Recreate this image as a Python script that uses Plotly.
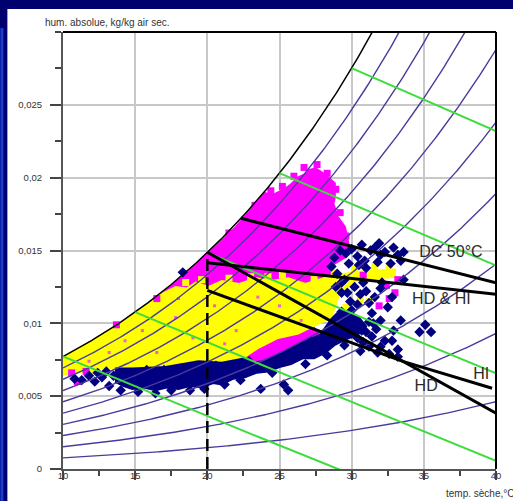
import numpy as np
import plotly.graph_objects as go

# ---------------- data ----------------
rh_levels = [0.1, 0.2, 0.3, 0.4, 0.5, 0.6, 0.7, 0.8, 0.9]
wetbulb_levels = [10, 15, 20, 25, 30]

x_tickvals = [10, 15, 20, 25, 30, 35, 40]
x_ticktext = ["10", "15", "20", "25", "30", "35", "40"]
y_tickvals = [0, 0.005, 0.01, 0.015, 0.02, 0.025]
y_ticktext = ["0", "0,005", "0,01", "0,015", "0,02", "0,025"]

# magenta cloud (outline)
magenta_T = [16.3, 17.2, 18.2, 19.2, 20.2, 21.0, 22.0, 23.0, 23.6, 24.0, 24.6, 25.4, 25.8, 26.3,
             26.8, 27.1, 27.5, 28.1, 28.8, 28.8, 28.7, 29.0, 29.5, 29.8, 29.6, 28.6, 28.4, 26.8,
             24.5, 22.2, 20.1, 18.7, 17.5, 16.3]
magenta_w = [0.0114, 0.0123, 0.0131, 0.0140, 0.0149, 0.0156, 0.0166, 0.0177, 0.0184, 0.0189,
             0.0188, 0.0192, 0.0195, 0.0200, 0.0202, 0.0205, 0.0206, 0.0202, 0.0196, 0.0187,
             0.0182, 0.0173, 0.0166, 0.0152, 0.0146, 0.0140, 0.0128, 0.0122, 0.0122, 0.0122,
             0.0120, 0.0120, 0.0118, 0.0114]
# magenta strip under the yellow cloud
magenta2_T = [22.4, 23.5, 24.9, 26.3, 27.3, 27.8, 26.2, 25.0, 24.0, 23.0, 22.4]
magenta2_w = [0.0077, 0.0084, 0.0090, 0.0093, 0.0098, 0.0092, 0.0085, 0.0079, 0.0074, 0.0073, 0.0077]
# isolated magenta squares
magenta_pts_T = [11.0, 11.6, 13.8, 14.1, 25.2, 26.0, 26.7, 27.6, 28.3, 28.9, 29.2, 29.6, 23.3,
                 21.5, 32.4, 33.0, 32.6, 33.2, 30.8, 31.9, 24.4, 22.6, 13.7, 16.5, 10.6]
magenta_pts_w = [0.0060, 0.0067, 0.0065, 0.0063, 0.0194, 0.0201, 0.0207, 0.0209, 0.0203, 0.0192,
                 0.0176, 0.0160, 0.0181, 0.0162, 0.0126, 0.0121, 0.0117, 0.0130, 0.0133, 0.0112,
                 0.0191, 0.0170, 0.0099, 0.0117, 0.0066]
# small magenta specks inside the yellow cloud
speck_T = [15.5, 17.8, 20.5, 22.0, 13.2, 25.0, 19.0, 23.5, 26.5, 16.5, 21.2, 18.0, 11.8, 14.3]
speck_w = [0.0095, 0.0104, 0.0112, 0.0095, 0.0080, 0.0112, 0.0090, 0.0118, 0.0102, 0.0080,
           0.0086, 0.0117, 0.0074, 0.0088]

# yellow cloud (outline)
yellow_T = [10.0, 10.0, 11.0, 12.0, 13.0, 14.0, 15.0, 16.0, 17.0, 17.8, 18.6, 19.2, 20.1, 21.0,
            22.2, 23.4, 24.5, 25.6, 26.8, 28.4, 29.5, 31.0, 33.0, 33.0, 30.5, 29.2, 28.6, 27.3,
            26.3, 24.9, 23.5, 22.6, 21.0, 19.4, 17.1, 14.8, 12.5, 11.0]
yellow_w = [0.0064, 0.0077, 0.0082, 0.0088, 0.0094, 0.0100, 0.0107, 0.0114, 0.0121, 0.0125,
            0.0124, 0.0128, 0.0125, 0.0129, 0.0127, 0.0131, 0.0129, 0.0131, 0.0127, 0.0132,
            0.0134, 0.0136, 0.0137, 0.0132, 0.0130, 0.0122, 0.0104, 0.0098, 0.0093, 0.0090,
            0.0083, 0.0077, 0.0074, 0.0075, 0.0071, 0.0070, 0.0069, 0.0066]
yellow_pts_T = [18.5, 19.6, 21.5, 23.0, 24.2, 25.2, 27.4, 28.8, 30.2, 31.6, 32.6, 30.6, 31.2,
                12.0, 16.0, 29.6]
yellow_pts_w = [0.0128, 0.0130, 0.0131, 0.0132, 0.0132, 0.0133, 0.0130, 0.0135, 0.0137, 0.0139,
                0.0139, 0.0116, 0.0115, 0.0067, 0.0068, 0.0111]

# dense navy band (outline)
blue_T = [13.6, 14.8, 17.1, 19.4, 21.0, 22.6, 23.0, 24.0, 25.0, 26.2, 27.8, 28.6, 29.2, 30.5,
          31.0, 30.4, 29.6, 28.8, 28.2, 27.4, 26.6, 25.8, 25.0, 24.2, 23.4, 22.6, 21.8, 21.0,
          20.4, 19.6, 18.8, 18.0, 17.2, 16.4, 15.6, 14.8, 14.2, 13.6]
blue_w = [0.0069, 0.0069, 0.0070, 0.0074, 0.0073, 0.0076, 0.0073, 0.0074, 0.0079, 0.0085,
          0.0092, 0.0103, 0.0109, 0.0104, 0.0098, 0.0092, 0.0089, 0.0085, 0.0080, 0.0076,
          0.0076, 0.0072, 0.0070, 0.0067, 0.0066, 0.0063, 0.0062, 0.0058, 0.0059, 0.0056,
          0.0057, 0.0055, 0.0056, 0.0054, 0.0056, 0.0055, 0.0057, 0.0060]
# navy diamonds
blue_pts_T = [29.6, 30.0, 30.4, 30.9, 31.3, 31.6, 32.0, 32.3, 32.7, 33.2, 33.4, 31.0, 30.5, 29.8,
              31.8, 28.6, 29.0, 29.5, 30.2, 30.8, 31.6, 32.0, 32.5, 31.2, 30.6, 29.9, 29.3, 30.0,
              31.4, 28.9, 32.8, 29.1, 29.6, 30.3, 31.4, 32.3, 33.2, 33.2, 32.0, 31.0, 30.8, 31.8,
              32.6, 30.0, 33.4, 32.9, 29.0, 34.7, 35.1, 35.5, 10.8, 11.3, 11.8, 12.2, 13.2, 14.0,
              15.2, 16.4, 17.5, 18.8, 19.8, 21.2, 22.3, 23.7, 25.3, 25.6, 24.5, 26.8, 28.3, 29.5,
              30.7, 18.3, 27.2, 27.8, 28.2, 29.3, 30.1, 31.5, 33.6, 32.1, 28.8, 29.2, 30.7, 31.9,
              32.9, 33.6, 29.3, 29.7, 31.0, 30.4, 32.0, 31.7, 30.4, 29.7, 32.8, 31.2, 30.6, 12.7,
              13.0, 12.4, 13.5, 14.6, 15.8, 17.0, 18.2, 19.2, 20.6, 21.6, 22.9, 24.0, 26.0, 27.0,
              28.0, 28.9, 30.0, 31.2]
blue_pts_w = [0.0148, 0.0151, 0.0146, 0.0143, 0.0150, 0.0152, 0.0147, 0.0149, 0.0141, 0.0147,
              0.0143, 0.0138, 0.0140, 0.0141, 0.0142, 0.0139, 0.0134, 0.0130, 0.0125, 0.0128,
              0.0118, 0.0124, 0.0111, 0.0114, 0.0120, 0.0115, 0.0121, 0.0109, 0.0107, 0.0125,
              0.0118, 0.0102, 0.0098, 0.0100, 0.0091, 0.0088, 0.0082, 0.0077, 0.0084, 0.0094,
              0.0087, 0.0080, 0.0079, 0.0093, 0.0102, 0.0095, 0.0095, 0.0094, 0.0099, 0.0094,
              0.0062, 0.0061, 0.0064, 0.0060, 0.0057, 0.0054, 0.0053, 0.0052, 0.0054, 0.0054,
              0.0055, 0.0058, 0.0061, 0.0055, 0.0058, 0.0054, 0.0066, 0.0072, 0.0078, 0.0085,
              0.0095, 0.0135, 0.0088, 0.0083, 0.0090, 0.0108, 0.0104, 0.0100, 0.0130, 0.0128,
              0.0145, 0.0150, 0.0154, 0.0155, 0.0152, 0.0149, 0.0128, 0.0121, 0.0122, 0.0113,
              0.0102, 0.0096, 0.0090, 0.0093, 0.0088, 0.0084, 0.0081, 0.0063, 0.0067, 0.0066,
              0.0064, 0.0066, 0.0068, 0.0068, 0.0069, 0.0071, 0.0071, 0.0071, 0.0074, 0.0071,
              0.0078, 0.0083, 0.0087, 0.0096, 0.0099, 0.0101]

# black process lines
dc50_T = [22.33, 40.0]
dc50_w = [0.01721, 0.01279]
hdhi_T = [20.0, 40.0]
hdhi_w = [0.01416, 0.01199]
hd_T = [20.0, 40.0]
hd_w = [0.01488, 0.00383]
hi_T = [20.0, 33.6, 39.73]
hi_w = [0.01226, 0.00737, 0.00554]
dash_T = [20.0, 20.0]
dash_w = [0.0, 0.0149]

label_text = ["DC 50°C", "HD & HI", "HI", "HD"]
label_T = [36.88, 36.22, 38.97, 35.16]
label_w = [0.01486, 0.01157, 0.00648, 0.00562]

# ---------------- psychrometric furniture ----------------
P = 100000.0


def pws(T):
    return 610.94 * np.exp(17.625 * T / (T + 243.04))


def w_rh(T, rh):
    p = rh * pws(T)
    return 0.622 * p / (P - p)


def w_wb(T, twb):
    ws = w_rh(twb, 1.0)
    return ((2501 - 2.326 * twb) * ws - 1.006 * (T - twb)) / (2501 + 1.86 * T - 4.186 * twb)


fig = go.Figure()

NAVY = "#000080"
MAG = "#ff00ff"
YEL = "#ffff00"

# clouds
fig.add_trace(go.Scatter(x=magenta_T, y=magenta_w, fill="toself", fillcolor=MAG, mode="lines",
                         line=dict(color=MAG, width=3), hoverinfo="skip"))
fig.add_trace(go.Scatter(x=magenta2_T, y=magenta2_w, fill="toself", fillcolor=MAG, mode="lines",
                         line=dict(color=MAG, width=2), hoverinfo="skip"))
fig.add_trace(go.Scatter(x=yellow_T, y=yellow_w, fill="toself", fillcolor=YEL, mode="lines",
                         line=dict(color=YEL, width=2), hoverinfo="skip"))
fig.add_trace(go.Scatter(x=yellow_pts_T, y=yellow_pts_w, mode="markers",
                         marker=dict(symbol="square", size=7, color=YEL), hoverinfo="skip"))
fig.add_trace(go.Scatter(x=speck_T, y=speck_w, mode="markers",
                         marker=dict(symbol="square", size=3, color="#f060c8"), hoverinfo="skip"))
fig.add_trace(go.Scatter(x=magenta_pts_T, y=magenta_pts_w, mode="markers",
                         marker=dict(symbol="square", size=7, color=MAG), hoverinfo="skip"))
fig.add_trace(go.Scatter(x=blue_T, y=blue_w, fill="toself", fillcolor=NAVY, mode="lines",
                         line=dict(color=NAVY, width=2), hoverinfo="skip"))
fig.add_trace(go.Scatter(x=blue_pts_T, y=blue_pts_w, mode="markers",
                         marker=dict(symbol="diamond", size=8, color=NAVY), hoverinfo="skip"))

# relative humidity curves
T = np.linspace(10, 40, 301)
for rh in rh_levels:
    fig.add_trace(go.Scatter(x=T, y=w_rh(T, rh), mode="lines",
                             line=dict(color="#4a3a9c", width=1.4), hoverinfo="skip"))
# saturation curve
fig.add_trace(go.Scatter(x=T, y=w_rh(T, 1.0), mode="lines",
                         line=dict(color="black", width=1.5), hoverinfo="skip"))
# wet-bulb lines
for twb in wetbulb_levels:
    Tw = np.linspace(twb, 40, 60)
    fig.add_trace(go.Scatter(x=Tw, y=w_wb(Tw, twb), mode="lines",
                             line=dict(color="#3ddc3d", width=2), hoverinfo="skip"))

# process lines
for xs, ys in [(dc50_T, dc50_w), (hdhi_T, hdhi_w), (hd_T, hd_w), (hi_T, hi_w)]:
    fig.add_trace(go.Scatter(x=xs, y=ys, mode="lines",
                             line=dict(color="black", width=3), hoverinfo="skip"))
fig.add_trace(go.Scatter(x=dash_T, y=dash_w, mode="lines",
                         line=dict(color="black", width=2.5, dash="12px,6px"), hoverinfo="skip"))

fig.add_trace(go.Scatter(x=label_T, y=label_w, mode="text", text=label_text,
                         textfont=dict(family="Liberation Sans, Arial", size=16, color="#2a2a2a"),
                         textposition="middle center", hoverinfo="skip"))

# ---------------- layout ----------------
L, R, TOP, B = 63, 14, 32, 32
W, H = 513, 501
pw, ph = W - L - R, H - TOP - B


def px2x(px):
    return (px - L) / pw


def py2y(py):
    return (H - B - py) / ph


tickfont = dict(family="Liberation Sans, Arial", size=9.5, color="#333333")

fig.update_layout(
    width=W, height=H, autosize=False,
    margin=dict(l=L, r=R, t=TOP, b=B, pad=0),
    paper_bgcolor="#00006e", plot_bgcolor="white",
    showlegend=False,
    xaxis=dict(range=[10, 40], tickmode="array", tickvals=x_tickvals, ticktext=x_ticktext,
               ticks="outside", ticklen=9, tickwidth=1.5, tickcolor="#444444",
               tickfont=tickfont, ticklabelstandoff=-12,
               showline=True, linecolor="#555555", linewidth=2,
               showgrid=True, gridcolor="#c8c8c8", gridwidth=1.5, zeroline=False,
               minor=dict(tickmode="linear", tick0=0, dtick=2.5, ticks="outside", ticklen=5,
                          tickwidth=1.5, tickcolor="#444444", showgrid=False)),
    yaxis=dict(range=[0, 0.03], tickmode="array", tickvals=y_tickvals, ticktext=y_ticktext,
               ticks="outside", ticklen=11, tickwidth=1.5, tickcolor="#444444",
               tickfont=tickfont, ticklabelstandoff=6,
               showline=True, linecolor="#555555", linewidth=2,
               showgrid=True, gridcolor="#c8c8c8", gridwidth=1.5, zeroline=False,
               minor=dict(tickmode="linear", tick0=0, dtick=0.0025, ticks="outside", ticklen=6,
                          tickwidth=1.5, tickcolor="#444444", showgrid=False)),
    shapes=[
        dict(type="rect", xref="paper", yref="paper", x0=px2x(7), x1=px2x(530),
             y0=py2y(520), y1=py2y(9), fillcolor="white", line=dict(width=0), layer="below"),
        dict(type="rect", xref="paper", yref="paper", x0=px2x(0), x1=px2x(3),
             y0=py2y(520), y1=py2y(28), fillcolor="#1c3cd0", line=dict(width=0), layer="below"),
        dict(type="line", xref="paper", yref="paper", x0=0, x1=1, y0=1, y1=1,
             line=dict(color="black", width=2)),
        dict(type="line", xref="paper", yref="paper", x0=1, x1=1, y0=0, y1=1,
             line=dict(color="black", width=2)),
    ],
    annotations=[
        dict(text="hum. absolue, kg/kg air sec.", xref="paper", yref="paper",
             x=px2x(43), y=py2y(23), xanchor="left", yanchor="middle", showarrow=False,
             font=dict(family="Liberation Sans, Arial", size=10, color="#333333")),
        dict(text="temp. sèche,°C", xref="paper", yref="paper",
             x=px2x(447), y=py2y(493), xanchor="left", yanchor="middle", showarrow=False,
             font=dict(family="Liberation Sans, Arial", size=10, color="#333333")),
    ],
)

fig.write_html("out.html")
